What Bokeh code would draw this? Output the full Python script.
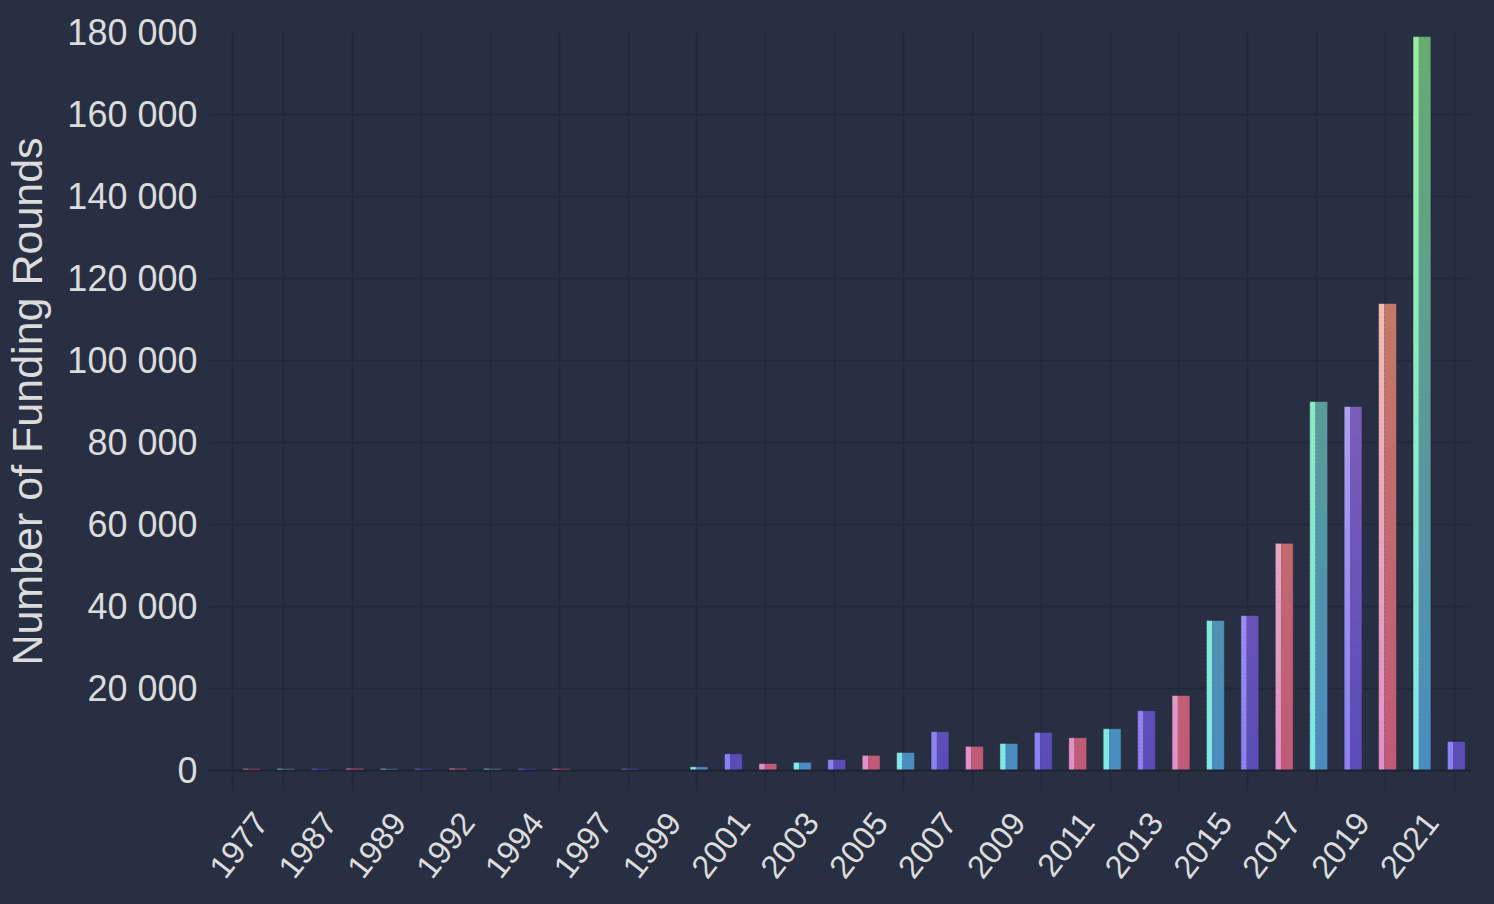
import math
import numpy as np
from bokeh.plotting import figure
from bokeh.models import FixedTicker, LinearAxis, Range1d, ColumnDataSource
from bokeh.embed import file_html
from bokeh.resources import INLINE

# ---------------- data ----------------
years = ["1977", "1984", "1987", "1988", "1989", "1990", "1992", "1993", "1994",
         "1995", "1997", "1998", "1999", "2000", "2001", "2002", "2003", "2004",
         "2005", "2006", "2007", "2008", "2009", "2010", "2011", "2012", "2013",
         "2014", "2015", "2016", "2017", "2018", "2019", "2020", "2021", "2022"]
funding_rounds = [500, 480, 500, 520, 480, 470, 520, 500, 470, 480, 0, 460, 0,
                  900, 4100, 1700, 2000, 2700, 3700, 4400, 9500, 5900, 6600,
                  9300, 8000, 10200, 14600, 18300, 36600, 37800, 55400, 90000,
                  88800, 113900, 179000, 7100]
y_ticks = [0, 20000, 40000, 60000, 80000, 100000, 120000, 140000, 160000, 180000]
y_title = "Number of Funding Rounds"

# ---------------- style ----------------
BG = "#292f42"
GRID = "#22273a"
AXIS = "#1e2231"
TEXT = "#dcdcdc"
FONT = "Liberation Sans"
Y_MAX = 180000

# (strip bottom, strip top, body bottom, body top)
PALETTES = [
    ((224, 144, 200), (248, 216, 168), (192, 90, 120), (200, 137, 95)),    # pink
    ((128, 232, 232), (152, 236, 160), (74, 140, 192), (106, 170, 112)),   # teal
    ((138, 128, 240), (208, 192, 240), (90, 76, 184), (158, 108, 184)),    # purple
]


def mix(c0, c1, t):
    t = max(0.0, min(1.0, t))
    return "#%02x%02x%02x" % tuple(int(round(a + (b - a) * t)) for a, b in zip(c0, c1))


BAR_W = 0.52
STRIP_W = 0.17
STEP = 1000.0

xs, ws, bots, tops, cols = [], [], [], [], []
ox, otop = [], []
for i, v in enumerate(funding_rounds):
    if v <= 0:
        continue
    s0, s1, b0, b1 = PALETTES[i % 3]
    n = max(1, int(math.ceil(v / STEP)))
    edges = np.linspace(0, v, n + 1)
    left = i - BAR_W / 2
    strip_x = left + STRIP_W / 2
    body_x = left + STRIP_W + (BAR_W - STRIP_W) / 2
    for k in range(n):
        lo, hi = edges[k], edges[k + 1]
        t = ((lo + hi) / 2) / Y_MAX
        top_ext = hi + (STEP * 0.3 if k < n - 1 else 0)
        xs += [strip_x, body_x]
        ws += [STRIP_W, BAR_W - STRIP_W]
        bots += [lo, lo]
        tops += [top_ext, top_ext]
        cols += [mix(s0, s1, t), mix(b0, b1, t)]
    ox.append(i)
    otop.append(v)

seg_src = ColumnDataSource(dict(x=xs, w=ws, bottom=bots, top=tops, color=cols))
out_src = ColumnDataSource(dict(x=ox, top=otop))

p = figure(frame_width=1262, frame_height=738,
           x_range=Range1d(-1.249, 35.41), y_range=Range1d(0, Y_MAX),
           output_backend="svg", toolbar_location=None,
           x_axis_location=None,
           background_fill_color=BG, border_fill_color=BG,
           outline_line_color=None,
           min_border_left=208, min_border_top=32, min_border_right=24,
           min_border_bottom=10)

# grids
tick_pos = [-0.55] + [k - 0.06 for k in range(1, len(years), 2)]
p.ygrid.ticker = FixedTicker(ticks=y_ticks)
p.ygrid.grid_line_color = GRID
p.ygrid.grid_line_width = 1.5
p.xgrid.ticker = FixedTicker(ticks=tick_pos)
p.xgrid.grid_line_color = GRID
p.xgrid.grid_line_width = 1.5

# bars
p.vbar(x="x", width="w", bottom="bottom", top="top", fill_color="color",
       line_color=None, source=seg_src)
p.vbar(x="x", width=BAR_W, bottom=0, top="top", fill_color=None,
       line_color="#1c2030", line_alpha=0.45, line_width=1, source=out_src)

# y axis
yax = p.yaxis[0]
yax.ticker = FixedTicker(ticks=y_ticks)
yax.major_label_overrides = {t: f"{t:,}".replace(",", " ") for t in y_ticks}
yax.major_label_text_font = FONT
yax.major_label_text_font_size = "36px"
yax.major_label_text_color = TEXT
yax.major_label_standoff = 11
yax.major_tick_out = 0
yax.major_tick_in = 0
yax.major_tick_line_color = None
yax.minor_tick_line_color = None
yax.axis_line_color = None
yax.axis_label = y_title
yax.axis_label_text_font = FONT
yax.axis_label_text_font_size = "43px"
yax.axis_label_text_font_style = "normal"
yax.axis_label_text_color = TEXT
yax.axis_label_standoff = 13

# x axis 1: tick marks + baseline
xa1 = LinearAxis(ticker=FixedTicker(ticks=tick_pos))
xa1.major_label_overrides = {t: "" for t in tick_pos}
xa1.major_label_text_font_size = "1px"
xa1.major_label_standoff = 0
xa1.major_tick_out = 20
xa1.major_tick_in = 0
xa1.major_tick_line_color = GRID
xa1.major_tick_line_width = 1.5
xa1.minor_tick_line_color = None
xa1.axis_line_color = AXIS
xa1.axis_line_width = 2
p.add_layout(xa1, "below")

# x axis 2: year labels
lab_idx = list(range(0, len(years), 2))
lab_pos = [k + 0.27 for k in lab_idx]
xa2 = LinearAxis(ticker=FixedTicker(ticks=lab_pos))
xa2.major_label_overrides = {pos: years[k] for pos, k in zip(lab_pos, lab_idx)}
xa2.major_label_orientation = math.radians(52)
xa2.major_label_text_font = FONT
xa2.major_label_text_font_size = "32.5px"
xa2.major_label_text_color = TEXT
xa2.major_label_standoff = 26
xa2.major_tick_out = 0
xa2.major_tick_in = 0
xa2.major_tick_line_color = None
xa2.minor_tick_line_color = None
xa2.axis_line_color = None
p.add_layout(xa2, "below")

html = file_html(p, INLINE, title="Funding rounds")
html = html.replace("</head>", "<style>html,body{background:%s;}</style></head>" % BG, 1)
open("out.html", "w").write(html)
